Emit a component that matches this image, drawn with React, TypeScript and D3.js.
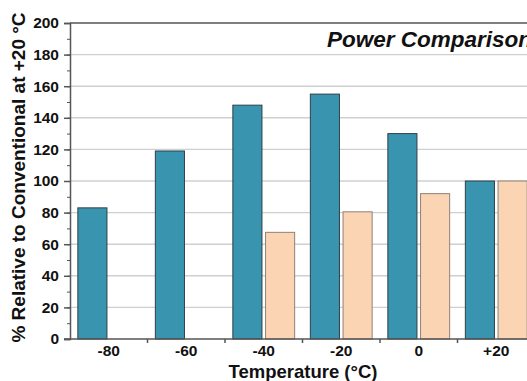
import { useEffect, useRef } from 'react';
import * as d3 from 'd3';

const temperatures = ['-80', '-60', '-40', '-20', '0', '+20'];
const series = ['conventional', 'new'];
const conventional = [83, 119, 148, 155, 130, 100];
const newDesign = [null, null, 67.5, 80.5, 92, 100];
const yTicks = [0, 20, 40, 60, 80, 100, 120, 140, 160, 180, 200];

const COLORS: Record<string, string> = { conventional: '#3994b0', new: '#fbd4b4' };
const STROKES: Record<string, string> = { conventional: '#2f3f48', new: '#8f8278' };

export default function App() {
  const svgRef = useRef<SVGSVGElement>(null);

  useEffect(() => {
    if (!svgRef.current) return;
    const width = 527;
    const height = 381;
    const margin = { top: 23, left: 70, bottom: 42 };
    const plotRight = 535; // plot runs past the window, like the reference crop

    const svg = d3.select(svgRef.current);
    svg.selectAll('*').remove();
    svg.attr('width', width).attr('height', height);

    const x0 = d3.scaleBand<string>().domain(temperatures).range([margin.left, plotRight]).padding(0);
    const x1 = d3.scaleBand<string>().domain(series).range([0, x0.bandwidth()]).paddingInner(0.11).paddingOuter(0.24);
    const y = d3.scaleLinear().domain([0, 200]).range([height - margin.bottom, margin.top]);

    const font = '"Liberation Sans", Arial, sans-serif';

    // grid
    yTicks.filter(v => v > 0 && v < 200).forEach(v => {
      svg.append('line')
        .attr('x1', margin.left).attr('x2', plotRight)
        .attr('y1', y(v)).attr('y2', y(v))
        .attr('stroke', '#d0d0d0')
        .attr('stroke-width', 1.4);
    });

    // bars
    const rows = temperatures.map((t, i) => ({ t, values: [conventional[i], newDesign[i]] }));
    rows.forEach(row => {
      series.forEach((s, j) => {
        const v = row.values[j];
        if (v == null) return;
        svg.append('rect')
          .attr('x', (x0(row.t) ?? 0) + (x1(s) ?? 0))
          .attr('y', y(v))
          .attr('width', x1.bandwidth())
          .attr('height', y(0) - y(v))
          .attr('fill', COLORS[s])
          .attr('stroke', STROKES[s])
          .attr('stroke-width', 1);
      });
    });

    // top frame line
    svg.append('line')
      .attr('x1', margin.left).attr('x2', plotRight)
      .attr('y1', y(200)).attr('y2', y(200))
      .attr('stroke', '#555').attr('stroke-width', 1.5);

    // y axis
    const yAxis = svg.append('g').attr('transform', `translate(${margin.left},0)`);
    yAxis.call(d3.axisLeft(y).tickValues(d3.range(0, 201, 10)).tickSize(3).tickFormat(() => ''))
      .call(g => g.select('.domain').remove())
      .call(g => g.selectAll('.tick line').attr('stroke', '#555').attr('stroke-width', 1));
    yAxis.append('g')
      .call(d3.axisLeft(y).tickValues(yTicks).tickSize(6).tickPadding(5))
      .call(g => g.select('.domain').attr('stroke', '#555').attr('stroke-width', 1.5))
      .call(g => g.selectAll('.tick line').attr('stroke', '#555').attr('stroke-width', 1.5))
      .call(g => g.selectAll('.tick text')
        .attr('fill', '#111').attr('font-size', '15.5px').attr('font-weight', 'bold').attr('font-family', font));

    // x axis
    const xAxis = svg.append('g').attr('transform', `translate(0,${y(0)})`);
    xAxis.append('line')
      .attr('x1', margin.left - 6).attr('x2', plotRight)
      .attr('stroke', '#555').attr('stroke-width', 1.5);
    temperatures.slice(1).forEach(t => {
      xAxis.append('line')
        .attr('x1', x0(t) ?? 0).attr('x2', x0(t) ?? 0)
        .attr('y1', 0).attr('y2', 4)
        .attr('stroke', '#555').attr('stroke-width', 1.5);
    });
    temperatures.forEach(t => {
      xAxis.append('text')
        .attr('x', (x0(t) ?? 0) + x0.bandwidth() / 2)
        .attr('y', 17)
        .attr('text-anchor', 'middle')
        .attr('fill', '#111')
        .attr('font-size', '15.5px')
        .attr('font-weight', 'bold')
        .attr('font-family', font)
        .text(t);
    });

    // axis titles
    svg.append('text')
      .attr('x', 303).attr('y', 378)
      .attr('text-anchor', 'middle')
      .attr('fill', '#111')
      .attr('font-size', '18.5px').attr('font-weight', 'bold').attr('font-family', font)
      .text('Temperature (°C)');

    svg.append('text')
      .attr('transform', `translate(25,177.5) rotate(-90)`)
      .attr('text-anchor', 'middle')
      .attr('fill', '#111')
      .attr('font-size', '19px').attr('font-weight', 'bold').attr('font-family', font)
      .text('% Relative to Conventional at +20 °C');

    // chart title
    svg.append('text')
      .attr('x', 327).attr('y', 47)
      .attr('fill', '#111')
      .attr('font-size', '22.5px').attr('font-weight', 'bold').attr('font-style', 'italic').attr('font-family', font)
      .text('Power Comparison');
  }, []);

  return (
    <svg
      ref={svgRef}
      style={{ position: 'absolute', left: 0, top: 0, display: 'block', background: '#fff' }}
    />
  );
}
